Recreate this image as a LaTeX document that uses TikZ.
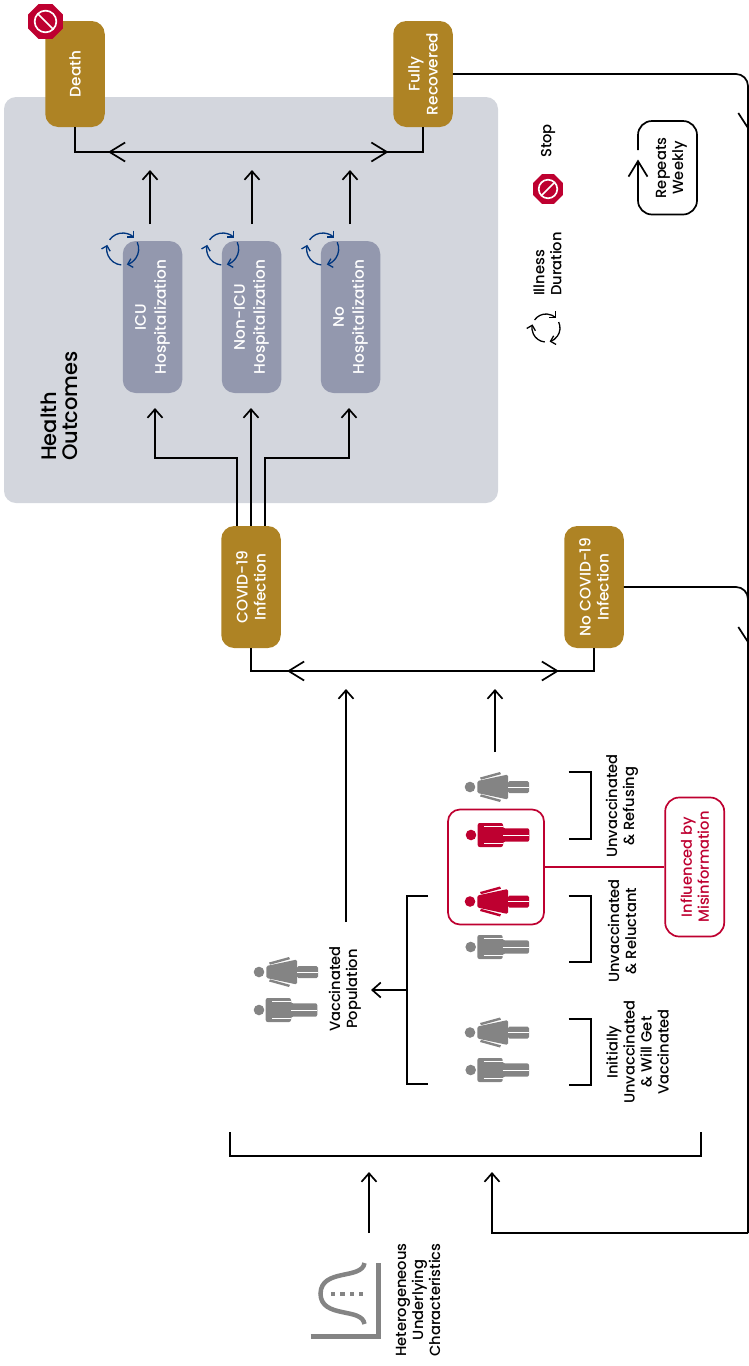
\documentclass[tikz,border=0pt]{standalone}
\usepackage{fontspec}
\usetikzlibrary{arrows.meta}
\setmainfont{Poppins}[UprightFont=* Medium]
\definecolor{goldbox}{HTML}{AE8324}
\definecolor{slatebox}{HTML}{9398AE}
\definecolor{panelgray}{HTML}{D3D6DD}
\definecolor{stopred}{HTML}{BE0030}
\definecolor{figgray}{HTML}{848484}
\definecolor{cyclenavy}{HTML}{00367F}
\tikzset{
  >={Straight Barb[length=8.5pt,width=15pt]},
  bigtip/.style={{Straight Barb[length=15.5pt,width=19pt]}-{Straight Barb[length=15.5pt,width=19pt]}},
  endtip/.style={-{Straight Barb[length=15.5pt,width=19pt]}},
  link/.style={line width=1.7pt},
  goldnode/.style={rotate=90,fill=goldbox,text=white,rounded corners=13pt,minimum height=59.5pt,inner sep=0pt,align=center,font=\fontsize{15.3}{18}\selectfont},
  hospnode/.style={rotate=90,fill=slatebox,text=white,rounded corners=13pt,minimum width=152pt,minimum height=59.5pt,inner sep=0pt,align=center,font=\fontsize{15.3}{20}\selectfont},
  tag/.style={rotate=90,align=center,inner sep=0pt,font=\fontsize{14.7}{17}\selectfont},
  malefig/.pic={
    \path[pic actions] (0,0) circle (5.3);
    \path[pic actions,rounded corners=2pt] (6.7,-12) -- (32,-12) -- (32,-6.7) -- (58.3,-6.7) -- (58.3,6.7) -- (32,6.7) -- (32,12) -- (6.7,12) -- cycle;
    \draw[white,line width=.5pt] (13,-8.7) -- (32,-8.7) (13,8.7) -- (32,8.7) (32,0) -- (58.3,0);
  },
  femalefig/.pic={
    \path[pic actions] (0,0) circle (5.3);
    \path[pic actions,rounded corners=1.5pt] (7.3,-6) -- (38,-12.5) -- (38,12.5) -- (7.3,6) -- cycle;
    \path[pic actions,rounded corners=1.5pt] (38,-6) -- (59,-6) -- (59,6) -- (38,6) -- cycle;
    \draw[white,line width=.5pt] (38,0) -- (59,0);
    \path[pic actions] (10,-9.5) -- (30,-15) -- (31,-12.8) -- (11,-7.3) -- cycle;
    \path[pic actions] (10,9.5) -- (30,15) -- (31,12.8) -- (11,7.3) -- cycle;
  },
  cyclepic/.pic={
    \foreach \a in {95,215,335}
      \draw[pic actions,line width=1.3pt,-{Straight Barb[length=4.5pt,width=9pt]}] (\a:#1) arc (\a:\a+100:#1);
  },
  stoppic/.pic={
    \fill[stopred] (22.5:#1) -- (67.5:#1) -- (112.5:#1) -- (157.5:#1) -- (202.5:#1) -- (247.5:#1) -- (292.5:#1) -- (337.5:#1) -- cycle;
    \draw[white,line width=1.7pt] (0,0) circle (#1*0.58);
    \draw[white,line width=1.7pt] (-135:#1*0.58) -- (45:#1*0.58);
  }
}
\begin{document}
\begin{tikzpicture}[x=1pt,y=-1pt]
  \useasboundingbox (0,0) rectangle (749,1366);

  % Panel
  \fill[panelgray,rounded corners=12pt] (4,97) rectangle (498,503);
  \node[tag,align=left,font=\fontsize{21}{21}\selectfont] (healthlabel) at (59,406) {Health\\Outcomes};

  % Cajas
  \node[goldnode,minimum width=106pt] (death) at (75,74) {Death};
  \node[goldnode,minimum width=106pt] (recovered) at (423,74) {Fully\\Recovered};
  \node[hospnode] (icu) at (152.5,317) {ICU\\Hospitalization};
  \node[hospnode] (nonicu) at (251.5,317) {Non-ICU\\Hospitalization};
  \node[hospnode] (nohosp) at (350.5,317) {No\\Hospitalization};
  \node[goldnode,minimum width=122pt] (covid) at (251,587) {COVID-19\\Infection};
  \node[goldnode,minimum width=122pt] (nocovid) at (594,587) {No COVID-19\\Infection};

  % Puntos libres
  \coordinate (outL) at (108,152);
  \coordinate (outR) at (388.5,152);
  \coordinate (infL) at (287,671);
  \coordinate (infR) at (559,671);
  \coordinate (railtop) at (748,74);
  \coordinate (railjoin) at (748,587);
  \coordinate (railbot) at (748,1233);
  \coordinate (feedcorner) at (492,1233);

  % Buses de salida
  \draw[line width=1.5pt] (death.west) -- ++(0,25) -| (recovered.west);
  \draw[link,bigtip] (outL) -- (outR);
  \draw[line width=1.5pt] (covid.west) -- ++(0,23) -| (nocovid.west);
  \draw[link,bigtip] (infL) -- (infR);

  % Flechas hacia arriba
  \foreach \x/\n in {150/icu,252/nonicu,350/nohosp}{
    \coordinate (\n start) at (\x,224);
    \coordinate (\n tip) at (\x,170);
    \draw[link,->] (\n start) -- (\n tip);
  }
  \draw[link,->] ([xshift=-14pt]covid.east) -- ++(0,-68) -| (155,408);
  \draw[link,->] (covid.east) -- (251,408);
  \draw[link,->] ([xshift=14pt]covid.east) -- ++(0,-68) -| (349,408);

  % Retorno
  \draw[link,rounded corners=12pt] (recovered.south) -- (railtop) -- (railbot);
  \draw[link,rounded corners=12pt] (nocovid.south) -- (railjoin) -- (748,620);
  \draw[link,->] (railbot) -- (feedcorner) -- (492,1172);
  \draw[link] (738.3,113) -- (748,128);
  \draw[link] (738.3,627) -- (748,642);

  % Iconos de ciclo
  \foreach \x in {122.7,222.7,322.7}
    \pic[draw=cyclenavy] at (\x,249) {cyclepic=16};
  \pic at (45.5,21.5) {stoppic=18.7};

  % Leyenda
  \node[tag] (stoplabel) at (548,141) {Stop};
  \pic[rotate=90] at (548,189) {stoppic=16};
  \node[tag,align=left] (illnesslabel) at (547.5,264) {Illness\\Duration};
  \pic[draw=black] at (546,328) {cyclepic=14};
  \node[tag] (repeatlabel) at (671.5,168) {Repeats\\Weekly};
  \coordinate (loopstart) at (638,150);
  \coordinate (loopend) at (638,159.5);
  \draw[link,endtip,rounded corners=14pt] (loopstart) |- (697,121) |- (638,214.5) -- (loopend);

  % Figuras
  \pic[fill=figgray] at (470,787) {femalefig};
  \pic[fill=stopred] at (471,835) {malefig};
  \pic[fill=stopred] at (470,901.5) {femalefig};
  \pic[fill=figgray] at (470.7,947) {malefig};
  \pic[fill=figgray] at (470,1032.5) {femalefig};
  \pic[fill=figgray] at (470.7,1070) {malefig};
  \pic[fill=figgray] at (259,972) {femalefig};
  \pic[fill=figgray] at (259,1010) {malefig};

  % Desinformacion
  \node[draw=stopred,line width=1.7pt,rounded corners=12pt,minimum width=96pt,minimum height=115pt] (redbox) at (496,867) {};
  \node[rotate=90,draw=stopred,text=stopred,line width=1.7pt,rounded corners=14pt,minimum width=139pt,minimum height=59pt,inner sep=0pt,align=center,font=\fontsize{14.7}{17}\selectfont] (misinfo) at (694.7,867) {Influenced by\\Misinformation};
  \draw[stopred,line width=1.7pt] (redbox.east) -- (misinfo.north);

  % Corchetes
  \draw[link] (568.5,772) -- (591,772) -- (591,839) -- (568.5,839);
  \draw[link] (568.5,896) -- (591,896) -- (591,962) -- (568.5,962);
  \draw[link] (568.5,1019) -- (591,1019) -- (591,1085) -- (568.5,1085);
  \node[tag] (refusinglabel) at (622,806) {Unvaccinated\\\& Refusing};
  \node[tag] (reluctantlabel) at (622,931) {Unvaccinated\\\& Reluctant};
  \node[tag] (initiallabel) at (637.5,1052) {Initially\\Unvaccinated\\\& Will Get\\Vaccinated};

  % Vacunados
  \draw[link] (428,896) -- (407,896) -- (407,1084) -- (428,1084);
  \coordinate (bracketmid) at (407,990);
  \node[tag] (vaxlabel) at (345,989) {Vaccinated\\Population};
  \coordinate (vaxstart) at (346,922);
  \draw[link,->] (bracketmid) -- (371,990);
  \draw[link,->] (vaxstart) -- (346,689);
  \coordinate (unvaxstart) at (495,752);
  \draw[link,->] (unvaxstart) -- (495,689);

  % Base
  \draw[link] (230,1132) -- (230,1156) -- (701,1156) -- (701,1132);
  \node[tag] (hetlabel) at (418,1300) {Heterogeneous\\Underlying\\Characteristics};
  \coordinate (hetstart) at (369,1233);
  \draw[link,->] (hetstart) -- (369,1172);

  % Campana
  \draw[figgray,line width=4.5pt] (310.5,1336.7) -- (378.7,1336.7) -- (378.7,1263);
  \draw[figgray,line width=4.5pt] (364.5,1263) .. controls (362,1280) and (321,1268) .. (320.5,1293.7) .. controls (321,1319) and (362,1307) .. (364.5,1324);
  \foreach \x in {333,342.5,352,361}
    \fill[figgray] (\x-2.2,1291.5) rectangle (\x+2.2,1296);
\end{tikzpicture}
\end{document}
